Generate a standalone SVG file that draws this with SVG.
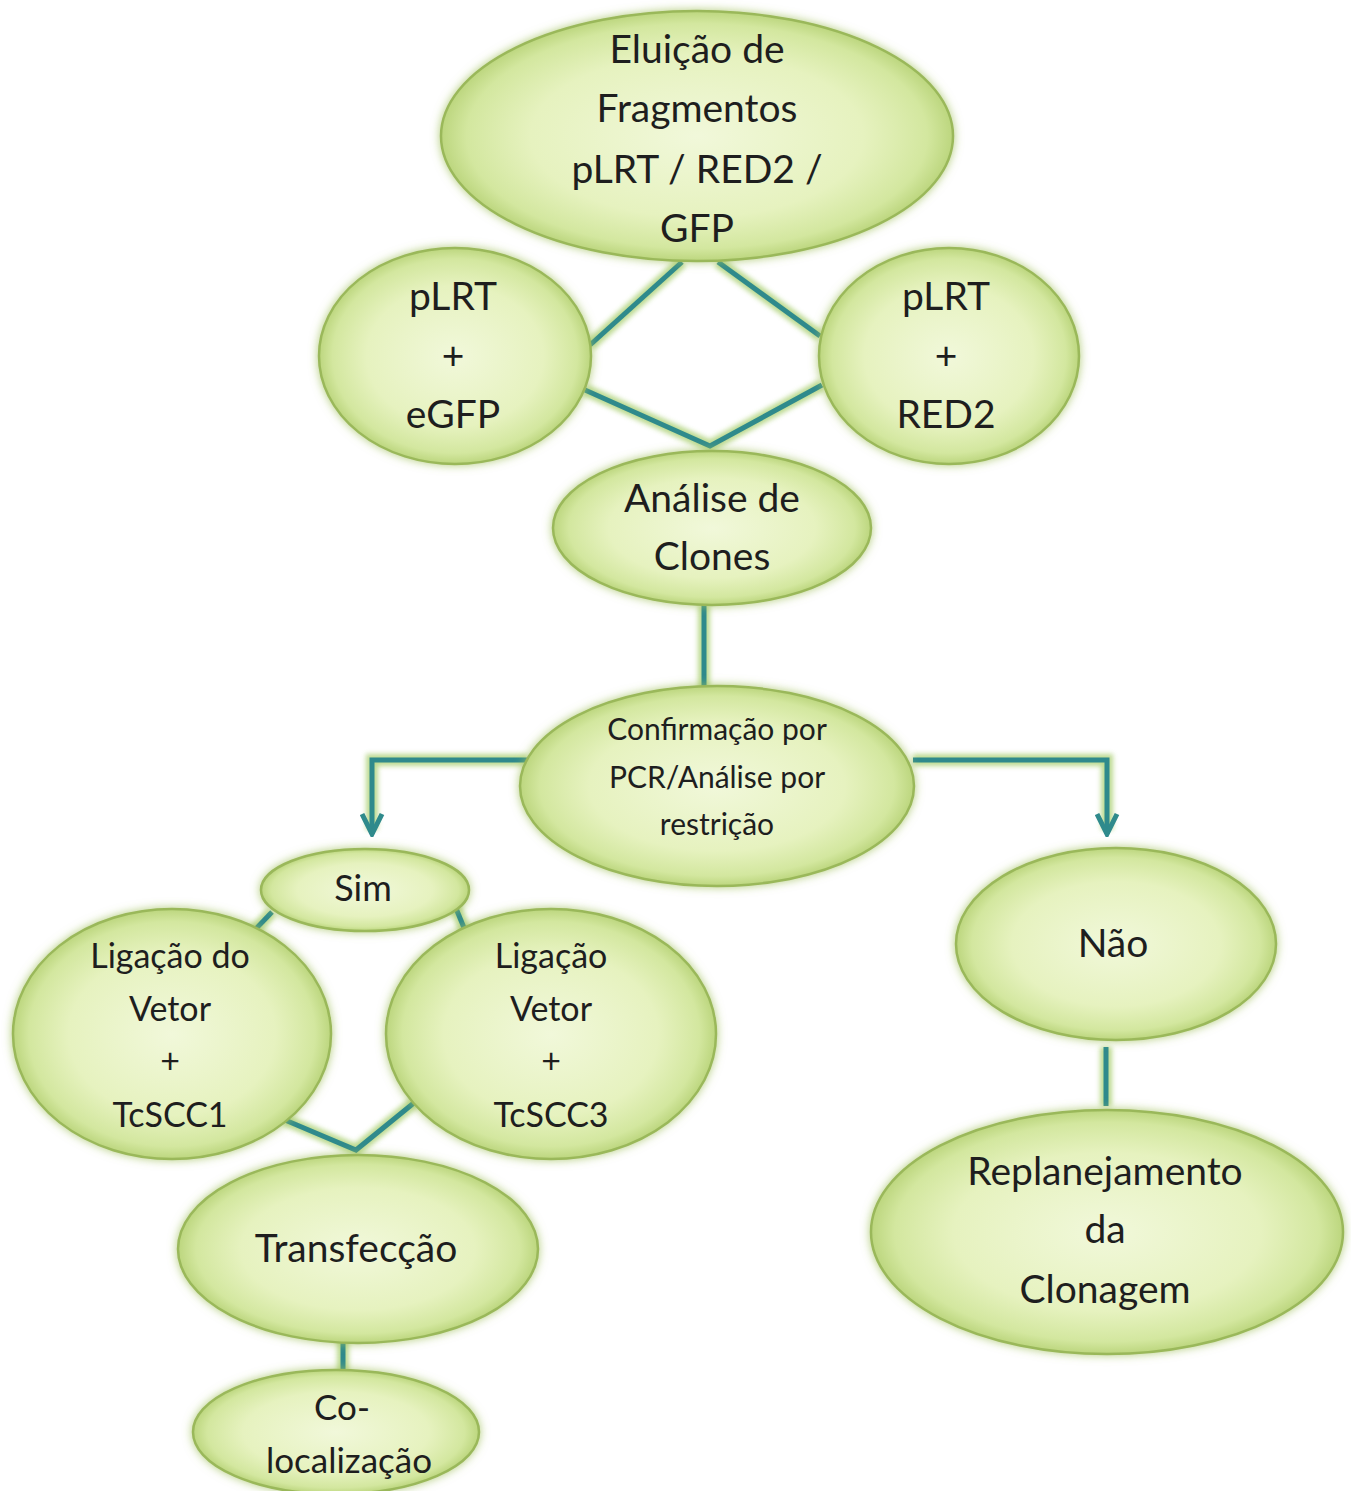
<svg xmlns="http://www.w3.org/2000/svg" width="1351" height="1491" viewBox="0 0 1351 1491">
<defs>
<radialGradient id="fill" cx="50%" cy="50%" r="50%">
<stop offset="0%" stop-color="#f1f8da"/>
<stop offset="65%" stop-color="#e6f2bf"/>
<stop offset="90%" stop-color="#d3e79f"/>
<stop offset="100%" stop-color="#bcd67e"/>
</radialGradient>
<filter id="glow" x="-20%" y="-20%" width="140%" height="140%">
<feGaussianBlur in="SourceAlpha" stdDeviation="5" result="b"/>
<feFlood flood-color="#9fbf5a" flood-opacity="0.8"/>
<feComposite in2="b" operator="in" result="g"/>
<feMerge><feMergeNode in="g"/><feMergeNode in="SourceGraphic"/></feMerge>
</filter>
<filter id="lglow" x="-20%" y="-20%" width="140%" height="140%">
<feGaussianBlur in="SourceGraphic" stdDeviation="2.5"/>
</filter>
<marker id="arr" viewBox="0 0 10 10" refX="9" refY="5" markerWidth="5" markerHeight="5" markerUnits="strokeWidth" orient="auto">
<path d="M1,1 L9,5 L1,9" fill="none" stroke="#2f8a8c" stroke-width="2"/>
</marker>
</defs>
<style>
.n{fill:url(#fill);stroke:#9ab85a;stroke-width:2.5;filter:url(#glow)}
.t{font-family:Lato,"Open Sans",sans-serif;fill:#1e1e1e;text-anchor:middle}
.c{fill:none;stroke:#2f8a8c;stroke-width:5;stroke-linejoin:miter}
.h{fill:none;stroke:#b5d684;stroke-width:12;opacity:0.9;filter:url(#lglow)}
</style>
<rect width="1351" height="1491" fill="#ffffff"/>
<g id="connectors">
<g class="h">
<path d="M682,262 L590,345"/><path d="M718,262 L820,336"/>
<path d="M585,390 L710,446 L822,385"/>
<path d="M704,605 L704,690"/>
<path d="M527,760 L372,760 L372,830"/><path d="M913,760 L1107,760 L1107,830"/>
<path d="M272,912 L248,937"/><path d="M455,906 L467,935"/>
<path d="M285,1120 L356,1150 L415,1102"/>
<path d="M343,1333 L343,1375"/>
<path d="M1106,1047 L1106,1106"/>
</g>
<path class="c" d="M682,262 L590,345"/>
<path class="c" d="M718,262 L820,336"/>
<path class="c" d="M585,390 L710,446 L822,385"/>
<path class="c" d="M704,605 L704,690"/>
<path class="c" d="M527,760 L372,760 L372,834" marker-end="url(#arr)"/>
<path class="c" d="M913,760 L1107,760 L1107,834" marker-end="url(#arr)"/>
<path class="c" d="M272,912 L248,937"/>
<path class="c" d="M455,906 L467,935"/>
<path class="c" d="M285,1120 L356,1150 L415,1102"/>
<path class="c" d="M343,1333 L343,1375"/>
<path class="c" d="M1106,1047 L1106,1106"/>
</g>
<g id="eluicao">
<ellipse class="n" cx="697" cy="136" rx="256" ry="125"/>
<text class="t" font-size="39" x="697"><tspan x="697" y="63">Eluição de</tspan><tspan x="697" y="122">Fragmentos</tspan><tspan x="697" y="183">pLRT / RED2 /</tspan><tspan x="697" y="242">GFP</tspan></text>
</g>
<g id="plrt-egfp">
<ellipse class="n" cx="455" cy="356" rx="136" ry="108"/>
<text class="t" font-size="39"><tspan x="453" y="310">pLRT</tspan><tspan x="453" y="369">+</tspan><tspan x="453" y="428">eGFP</tspan></text>
</g>
<g id="plrt-red2">
<ellipse class="n" cx="949" cy="356" rx="130" ry="108"/>
<text class="t" font-size="39"><tspan x="946" y="310">pLRT</tspan><tspan x="946" y="369">+</tspan><tspan x="946" y="428">RED2</tspan></text>
</g>
<g id="analise">
<ellipse class="n" cx="712" cy="528" rx="159" ry="77"/>
<text class="t" font-size="39"><tspan x="712" y="512">Análise de</tspan><tspan x="712" y="570">Clones</tspan></text>
</g>
<g id="confirmacao">
<ellipse class="n" cx="717" cy="786" rx="197" ry="100"/>
<text class="t" font-size="30"><tspan x="717" y="740">Confirmação por</tspan><tspan x="717" y="788">PCR/Análise por</tspan><tspan x="717" y="835">restrição</tspan></text>
</g>
<g id="sim">
<ellipse class="n" cx="365" cy="890" rx="104" ry="41"/>
<text class="t" font-size="36"><tspan x="363" y="901">Sim</tspan></text>
</g>
<g id="ligacao-do-vetor">
<ellipse class="n" cx="172" cy="1034" rx="159" ry="125"/>
<text class="t" font-size="34"><tspan x="170" y="968">Ligação do</tspan><tspan x="170" y="1021">Vetor</tspan><tspan x="170" y="1073">+</tspan><tspan x="170" y="1127">TcSCC1</tspan></text>
</g>
<g id="ligacao-vetor">
<ellipse class="n" cx="551" cy="1034" rx="165" ry="125"/>
<text class="t" font-size="34"><tspan x="551" y="968">Ligação</tspan><tspan x="551" y="1021">Vetor</tspan><tspan x="551" y="1073">+</tspan><tspan x="551" y="1127">TcSCC3</tspan></text>
</g>
<g id="transfeccao">
<ellipse class="n" cx="358" cy="1249" rx="180" ry="94"/>
<text class="t" font-size="39"><tspan x="356" y="1262">Transfecção</tspan></text>
</g>
<g id="colocalizacao">
<ellipse class="n" cx="336" cy="1432" rx="143" ry="62"/>
<text class="t" font-size="35"><tspan x="342" y="1420">Co-</tspan><tspan x="349" y="1473">localização</tspan></text>
</g>
<g id="nao">
<ellipse class="n" cx="1116" cy="944" rx="160" ry="96"/>
<text class="t" font-size="39"><tspan x="1113" y="957">Não</tspan></text>
</g>
<g id="replanejamento">
<ellipse class="n" cx="1107" cy="1232" rx="236" ry="122"/>
<text class="t" font-size="39"><tspan x="1105" y="1185">Replanejamento</tspan><tspan x="1105" y="1243">da</tspan><tspan x="1105" y="1303">Clonagem</tspan></text>
</g>
</svg>
